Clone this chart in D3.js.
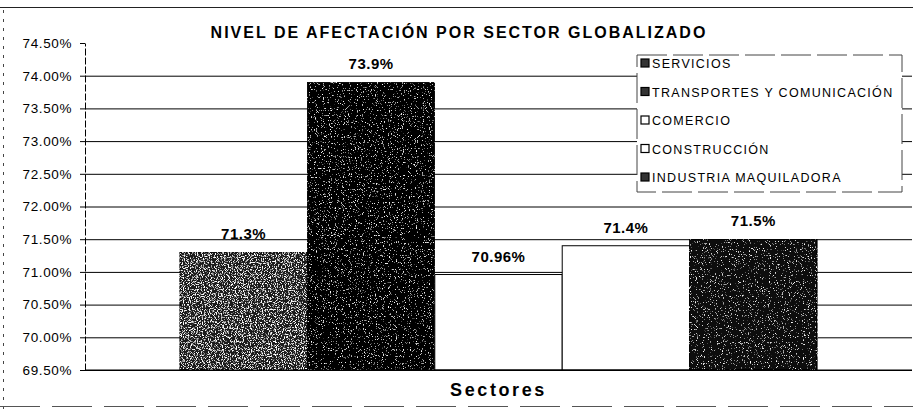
<!DOCTYPE html>
<html>
<head>
<meta charset="utf-8">
<script src="https://cdn.jsdelivr.net/npm/d3@7"></script>
<style>
  body { margin: 0; background: #fff; }
  svg { display: block; font-family: "Liberation Sans", Arial, sans-serif; }
</style>
</head>
<body>
<div id="chart"></div>
<script>
// chart data
const sectors = ['SERVICIOS', 'TRANSPORTES Y COMUNICACIÓN', 'COMERCIO', 'CONSTRUCCIÓN', 'INDUSTRIA MAQUILADORA'];
const values = [71.3, 73.9, 70.96, 71.4, 71.5];
const valueLabels = ['71.3%', '73.9%', '70.96%', '71.4%', '71.5%'];
const yTicks = [69.5, 70, 70.5, 71, 71.5, 72, 72.5, 73, 73.5, 74, 74.5];
const category = ['Sectores'];

const totalWidth = 913;
const totalHeight = 409;

const svg = d3.select('#chart').append('svg')
    .attr('width', totalWidth)
    .attr('height', totalHeight);

// speckle textures for the scanned-looking bars
const defs = svg.append('defs');
function speckle(id, cut) {
    const f = defs.append('filter').attr('id', id)
        .attr('x', 0).attr('y', 0).attr('width', 1).attr('height', 1);
    f.append('feTurbulence')
        .attr('type', 'fractalNoise')
        .attr('baseFrequency', 0.85)
        .attr('numOctaves', 2)
        .attr('seed', 4)
        .attr('result', 'noise');
    f.append('feColorMatrix')
        .attr('in', 'noise')
        .attr('type', 'matrix')
        .attr('values', `0 0 0 0 1  0 0 0 0 1  0 0 0 0 1  6 0 0 0 ${-6 * cut}`)
        .attr('result', 'specks');
    f.append('feComposite')
        .attr('in', 'specks').attr('in2', 'SourceGraphic')
        .attr('operator', 'in').attr('result', 'clipped');
    const m = f.append('feMerge');
    m.append('feMergeNode').attr('in', 'SourceGraphic');
    m.append('feMergeNode').attr('in', 'clipped');
}
speckle('speckDense', 0.52);
speckle('speckSparse', 0.63);

const fills = ['#1a1a1a', '#050505', '#ffffff', '#ffffff', '#0a0a0a'];
const filters = ['url(#speckDense)', 'url(#speckSparse)', null, null, 'url(#speckSparse)'];

const plotLeft = 85, plotRight = 912, plotTop = 43, plotBottom = 370;

const scaleY = d3.scaleLinear()
    .domain([69.5, 74.5])
    .range([plotBottom, plotTop]);

const scaleCat = d3.scaleBand()
    .domain(category)
    .range([plotLeft, plotRight])
    .paddingInner(0)
    .paddingOuter(0.149);

const scaleX = d3.scaleBand()
    .domain(sectors)
    .range([0, scaleCat.bandwidth()])
    .padding(0);

// page frame from the scan
svg.append('line').attr('x1', 0).attr('x2', totalWidth).attr('y1', 7.5).attr('y2', 7.5)
    .attr('stroke', '#222').attr('stroke-width', 1);
svg.append('line').attr('x1', 3.5).attr('x2', 3.5).attr('y1', 10).attr('y2', totalHeight)
    .attr('stroke', '#444').attr('stroke-dasharray', '3,6');
svg.append('line').attr('x1', 0).attr('x2', totalWidth).attr('y1', 406.5).attr('y2', 406.5)
    .attr('stroke', '#555').attr('stroke-dasharray', '40,12');

// grid
svg.append('g')
    .attr('class', 'grid')
    .attr('transform', `translate(${plotLeft}, 0)`)
    .call(d3.axisLeft(scaleY)
        .tickValues(yTicks.filter(t => t < 74.5))
        .tickSize(-(plotRight - plotLeft))
        .tickFormat(''))
    .call(g => g.select('.domain').remove())
    .call(g => g.selectAll('line').attr('stroke', '#000').attr('stroke-width', 1));

// y axis
const yAxis = svg.append('g')
    .attr('class', 'y-axis')
    .attr('transform', `translate(${plotLeft}, 0)`)
    .call(d3.axisLeft(scaleY)
        .tickValues(yTicks)
        .tickSize(5)
        .tickSizeOuter(0)
        .tickPadding(8)
        .tickFormat(d => d3.format('.2f')(d) + '%'));
yAxis.select('.domain').attr('stroke', '#000').attr('stroke-dasharray', '7,2');
yAxis.selectAll('.tick line').attr('stroke', '#000');
yAxis.selectAll('text')
    .attr('fill', '#000')
    .style('font-size', '13.5px')
    .style('letter-spacing', '0.6px');

// bars
const group = svg.append('g')
    .attr('transform', `translate(${scaleCat('Sectores')}, 0)`);

group.selectAll('rect.bar')
    .data(sectors)
    .enter()
    .append('rect')
    .attr('class', 'bar')
    .attr('x', d => scaleX(d))
    .attr('y', (d, i) => scaleY(values[i]))
    .attr('width', scaleX.bandwidth())
    .attr('height', (d, i) => scaleY(69.5) - scaleY(values[i]))
    .attr('fill', (d, i) => fills[i])
    .attr('filter', (d, i) => filters[i])
    .attr('stroke', '#000')
    .attr('stroke-width', 1);

group.selectAll('text.value')
    .data(sectors)
    .enter()
    .append('text')
    .attr('class', 'value')
    .attr('x', d => scaleX(d) + scaleX.bandwidth() / 2)
    .attr('y', (d, i) => scaleY(values[i]) - 13)
    .attr('text-anchor', 'middle')
    .style('font-size', '15px')
    .style('font-weight', 'bold')
    .style('letter-spacing', '0.5px')
    .text((d, i) => valueLabels[i]);

// bottom axis line
svg.append('line')
    .attr('x1', plotLeft).attr('x2', plotRight)
    .attr('y1', scaleY(69.5)).attr('y2', scaleY(69.5))
    .attr('stroke', '#000');

// title
svg.append('text')
    .attr('x', 459)
    .attr('y', 38)
    .attr('text-anchor', 'middle')
    .style('font-size', '16px')
    .style('font-weight', 'bold')
    .style('letter-spacing', '2px')
    .text('NIVEL DE AFECTACIÓN POR SECTOR GLOBALIZADO');

// x axis title
svg.append('text')
    .attr('x', scaleCat('Sectores') + scaleCat.bandwidth() / 2)
    .attr('y', 396)
    .attr('text-anchor', 'middle')
    .style('font-size', '18px')
    .style('font-weight', 'bold')
    .style('letter-spacing', '2.6px')
    .text(category[0]);

// legend
const legend = svg.append('g').attr('transform', 'translate(637, 55)');
legend.append('rect')
    .attr('width', 265)
    .attr('height', 137)
    .attr('fill', '#fff')
    .attr('stroke', '#444')
    .attr('stroke-dasharray', '30,6');

const items = legend.selectAll('g.item')
    .data(sectors)
    .enter()
    .append('g')
    .attr('class', 'item')
    .attr('transform', (d, i) => `translate(4, ${13 + i * 28.5})`);
items.append('rect')
    .attr('y', -9)
    .attr('width', 8)
    .attr('height', 8)
    .attr('fill', (d, i) => fills[i] === '#ffffff' ? '#fff' : '#333')
    .attr('stroke', '#000')
    .attr('stroke-width', 1.2);
items.append('text')
    .attr('x', 11)
    .style('font-size', '12.5px')
    .style('letter-spacing', '1.3px')
    .text(d => d);
</script>
</body>
</html>
